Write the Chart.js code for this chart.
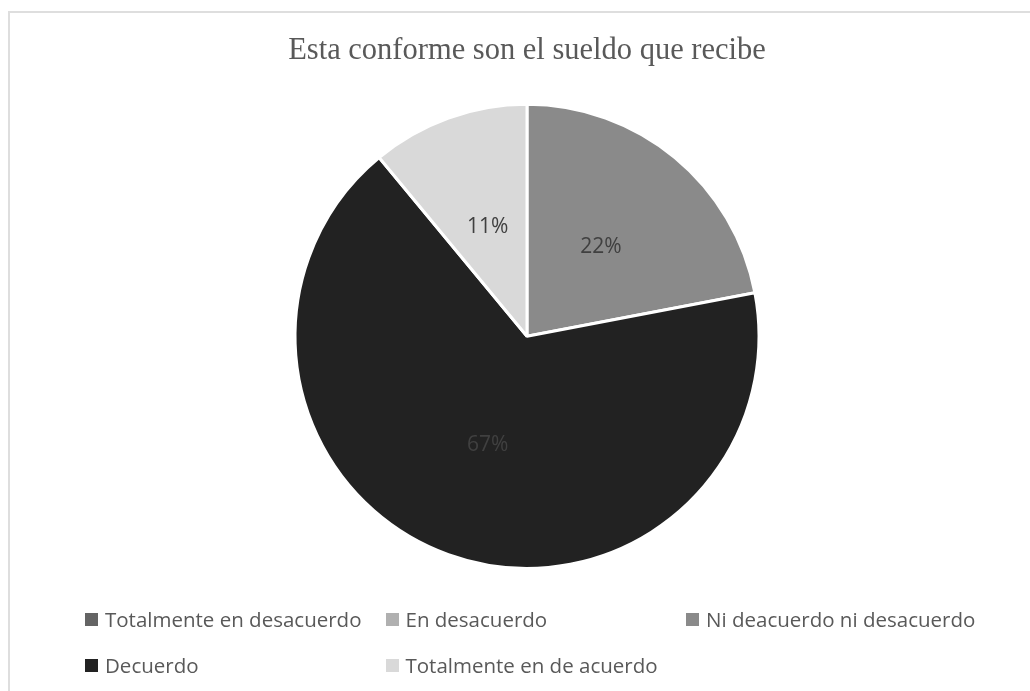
<!DOCTYPE html>
<html lang="es">
<head>
<meta charset="utf-8">
<title>Esta conforme son el sueldo que recibe</title>
<script src="https://cdn.jsdelivr.net/npm/chart.js@4/dist/chart.umd.min.js"></script>
<style>
  html, body { margin: 0; padding: 0; background: #ffffff; }
  #wrap { position: relative; width: 1030px; height: 691px; overflow: hidden; }
  #frame {
    position: absolute; left: 8px; top: 11px; width: 1100px; height: 800px;
    border: 2px solid #dedede; box-sizing: border-box; pointer-events: none;
  }
  #chart { position: absolute; left: 0; top: 0; }
  #legend {
    position: absolute; left: 85px; top: 604px;
    display: grid; grid-template-columns: repeat(3, 300.5px); row-gap: 16px;
    font-family: "Open Sans", sans-serif; font-size: 20.5px; color: #595959;
  }
  #legend .item { display: flex; align-items: center; height: 30px; white-space: nowrap; }
  #legend .box { width: 13px; height: 13px; margin-right: 7px; flex: none; }
</style>
</head>
<body>
<div id="wrap">
  <canvas id="chart" width="1030" height="691"></canvas>
  <div id="frame"></div>
  <div id="legend"></div>
</div>
<script>
// Survey answers and their share of responses (%)
const categories = [
  "Totalmente en desacuerdo",
  "En desacuerdo",
  "Ni deacuerdo ni desacuerdo",
  "Decuerdo",
  "Totalmente en de acuerdo"
];
const percentages = [0, 0, 22, 67, 11];
const sliceColors = ["#646464", "#b0b0b0", "#8a8a8a", "#222222", "#d9d9d9"];
const chartTitle = "Esta conforme son el sueldo que recibe";

// Percentage labels placed half-way along each slice radius
const sliceLabels = {
  id: "sliceLabels",
  afterDatasetsDraw(chart) {
    const ctx = chart.ctx;
    const meta = chart.getDatasetMeta(0);
    const values = chart.data.datasets[0].data;
    ctx.save();
    ctx.font = '21px "Open Sans", sans-serif';
    ctx.fillStyle = "#404040";
    ctx.textAlign = "center";
    ctx.textBaseline = "middle";
    meta.data.forEach((arc, i) => {
      if (!values[i]) return;
      const p = arc.getCenterPoint();
      ctx.fillText(values[i] + "%", p.x, p.y);
    });
    ctx.restore();
  }
};

// Legend laid out as a three-column grid under the pie
const gridLegend = {
  id: "gridLegend",
  afterUpdate(chart) {
    const host = document.getElementById("legend");
    host.innerHTML = "";
    const items = chart.options.plugins.legend.labels.generateLabels(chart);
    items.forEach(item => {
      const el = document.createElement("div");
      el.className = "item";
      const box = document.createElement("span");
      box.className = "box";
      box.style.background = item.fillStyle;
      const txt = document.createElement("span");
      txt.textContent = item.text;
      el.appendChild(box);
      el.appendChild(txt);
      host.appendChild(el);
    });
  }
};

new Chart(document.getElementById("chart"), {
  type: "pie",
  data: {
    labels: categories,
    datasets: [{
      data: percentages,
      backgroundColor: sliceColors,
      borderColor: "#ffffff",
      borderWidth: 3,
      radius: 232
    }]
  },
  options: {
    responsive: false,
    animation: false,
    layout: { padding: { top: 0, bottom: 93, left: 24, right: 0 } },
    plugins: {
      legend: { display: false },
      tooltip: { enabled: false },
      title: {
        display: true,
        text: chartTitle,
        color: "#595959",
        font: { family: '"Liberation Serif", "Times New Roman", serif', size: 30.5, weight: "normal" },
        padding: { top: 33, bottom: 5 }
      }
    }
  },
  plugins: [sliceLabels, gridLegend]
});
</script>
</body>
</html>
